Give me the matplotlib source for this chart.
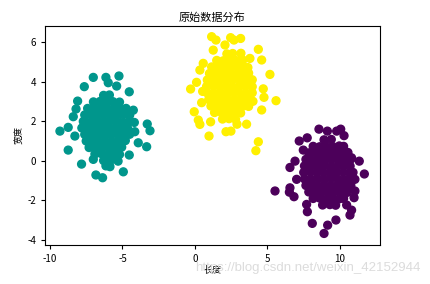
import numpy as np
import matplotlib
matplotlib.use("Agg")
import matplotlib.pyplot as plt
from matplotlib.colors import ListedColormap

plt.rcParams['font.family'] = ['Noto Sans CJK SC', 'DejaVu Sans']
plt.rcParams['axes.unicode_minus'] = False

# 青色簇 (label 1)
teal_x = [-5.24, -7.01, -6.14, -5.98, -7.63, -5.40, -4.53, -8.09, -8.20, -8.39,
          -4.25, -4.18, -3.29, -3.10, -8.74, -9.31, -8.28, -4.15, -3.91, -3.33,
          -8.74, -7.82, -7.01, -4.53, -4.94, -6.83, -6.37, -5.86, -5.30, -6.14,
          -6.30, -5.90,
          -7.00, -6.55, -6.10, -5.65, -5.20,
          -7.40, -6.95, -6.50, -6.05, -5.60, -5.15, -4.75,
          -7.60, -7.15, -6.70, -6.25, -5.80, -5.35, -4.90, -4.50,
          -7.70, -7.25, -6.80, -6.35, -5.90, -5.45, -5.00, -4.55,
          -7.80, -7.35, -6.90, -6.45, -6.00, -5.55, -5.10, -4.65,
          -7.60, -7.15, -6.70, -6.25, -5.80, -5.35, -4.90, -4.50,
          -7.50, -7.05, -6.60, -6.15, -5.70, -5.25, -4.80,
          -7.30, -6.85, -6.40, -5.95, -5.50, -5.05,
          -6.90, -6.45, -6.00, -5.55, -5.20,
          -6.30, -5.80]
teal_y = [4.28, 4.21, 4.21, 3.94, 3.74, 3.77, 3.48, 3.01, 2.61, 2.22,
          2.55, 1.93, 1.85, 1.51, 1.68, 1.49, 1.24, 1.46, 0.90, 0.70,
          0.53, -0.18, 0.06, 0.28, -0.57, -0.73, -0.87, -0.31, -0.03, -0.27,
          3.30, 3.32,
          2.97, 2.99, 2.95, 2.98, 2.96,
          2.64, 2.62, 2.66, 2.63, 2.65, 2.61, 2.64,
          2.31, 2.33, 2.30, 2.32, 2.29, 2.31, 2.34, 2.30,
          1.98, 1.96, 2.00, 1.97, 1.99, 1.98, 1.95, 1.99,
          1.65, 1.66, 1.63, 1.65, 1.67, 1.64, 1.66, 1.65,
          1.32, 1.30, 1.33, 1.31, 1.34, 1.32, 1.30, 1.33,
          0.99, 1.01, 0.98, 1.00, 0.97, 0.99, 1.01,
          0.66, 0.64, 0.67, 0.65, 0.66, 0.68,
          0.33, 0.35, 0.32, 0.34, 0.31,
          0.00, 0.02]

# 黄色簇 (label 2)
yellow_x = [1.15, 1.45, 2.46, 2.69, 3.15, 2.07, 1.26, 4.37, 3.17, 3.79,
            4.60, 0.57, 0.34, 5.17, 0.11, -0.30, 0.53, 4.71, 4.76, 5.59,
            0.46, -0.05, 4.60, 0.23, 0.34, 1.08, 2.14, 2.48, 0.97, 3.56,
            4.37, 4.20, 2.90, 4.00,
            2.20, 2.60,
            1.50, 1.95, 2.40, 2.85, 3.30,
            1.15, 1.60, 2.05, 2.50, 2.95, 3.40, 3.65,
            1.00, 1.45, 1.90, 2.35, 2.80, 3.25, 3.70,
            0.85, 1.30, 1.75, 2.20, 2.65, 3.10, 3.55, 3.95,
            0.80, 1.25, 1.70, 2.15, 2.60, 3.05, 3.50, 3.95,
            0.85, 1.30, 1.75, 2.20, 2.65, 3.10, 3.55, 3.95,
            0.95, 1.40, 1.85, 2.30, 2.75, 3.20, 3.65,
            1.10, 1.55, 2.00, 2.45, 2.90, 3.35, 3.70,
            1.35, 1.80, 2.25, 2.70, 3.15,
            1.90, 2.35, 2.80]
yellow_y = [6.27, 6.10, 6.22, 6.10, 6.18, 5.85, 5.59, 5.63, 5.43, 5.17,
            5.09, 4.92, 4.58, 4.36, 3.96, 3.62, 3.50, 3.63, 3.20, 3.03,
            2.93, 2.47, 2.56, 2.05, 1.83, 1.96, 1.46, 1.49, 1.24, 1.84,
            0.95, 0.50, 1.84, 3.00,
            5.40, 5.42,
            5.07, 5.05, 5.08, 5.06, 5.09,
            4.74, 4.72, 4.75, 4.73, 4.76, 4.74, 4.71,
            4.41, 4.43, 4.40, 4.42, 4.39, 4.41, 4.43,
            4.08, 4.06, 4.09, 4.07, 4.10, 4.08, 4.06, 4.09,
            3.75, 3.77, 3.74, 3.76, 3.73, 3.75, 3.77, 3.74,
            3.42, 3.40, 3.43, 3.41, 3.44, 3.42, 3.40, 3.43,
            3.09, 3.11, 3.08, 3.10, 3.07, 3.09, 3.11,
            2.76, 2.74, 2.77, 2.75, 2.78, 2.76, 2.74,
            2.43, 2.45, 2.42, 2.44, 2.41,
            2.10, 2.12, 2.09]

# 紫色簇 (label 0)
purple_x = [8.55, 9.13, 9.77, 10.05, 10.28, 7.19, 7.74, 7.47, 10.11, 10.80,
            11.33, 6.90, 6.55, 11.68, 11.03, 7.01, 5.52, 6.55, 6.51, 6.83,
            11.03, 10.97, 7.70, 7.75, 10.46, 10.80, 10.69, 9.72, 9.15, 8.09,
            8.90,
            8.90, 9.40,
            8.15, 8.60, 9.05, 9.50, 9.95, 10.25,
            7.85, 8.30, 8.75, 9.20, 9.65, 10.10, 10.55,
            7.65, 8.10, 8.55, 9.00, 9.45, 9.90, 10.35, 10.75,
            7.55, 8.00, 8.45, 8.90, 9.35, 9.80, 10.25, 10.70,
            7.50, 7.95, 8.40, 8.85, 9.30, 9.75, 10.20, 10.65, 10.90,
            7.55, 8.00, 8.45, 8.90, 9.35, 9.80, 10.25, 10.70,
            7.65, 8.10, 8.55, 9.00, 9.45, 9.90, 10.35, 10.75,
            7.85, 8.30, 8.75, 9.20, 9.65, 10.10, 10.50,
            8.15, 8.60, 9.05, 9.50, 9.95, 10.25,
            8.80, 9.30, 9.70]
purple_y = [1.59, 1.49, 1.49, 1.59, 1.26, 0.99, 1.15, 0.53, 0.56, 0.14,
            -0.03, -0.03, -0.35, -0.68, -0.95, -0.95, -1.54, -1.38, -1.60, -1.83,
            -1.54, -1.88, -2.22, -2.59, -2.25, -2.51, -2.76, -3.01, -3.27, -3.18,
            -3.69,
            1.05, 1.07,
            0.72, 0.70, 0.73, 0.71, 0.74, 0.72,
            0.39, 0.41, 0.38, 0.40, 0.37, 0.39, 0.41,
            0.06, 0.04, 0.07, 0.05, 0.08, 0.06, 0.04, 0.07,
            -0.27, -0.25, -0.28, -0.26, -0.29, -0.27, -0.25, -0.28,
            -0.60, -0.58, -0.61, -0.59, -0.62, -0.60, -0.58, -0.61, -0.60,
            -0.93, -0.95, -0.92, -0.94, -0.91, -0.93, -0.95, -0.92,
            -1.26, -1.24, -1.27, -1.25, -1.28, -1.26, -1.24, -1.27,
            -1.59, -1.61, -1.58, -1.60, -1.57, -1.59, -1.61,
            -1.92, -1.90, -1.93, -1.91, -1.94, -1.92,
            -2.25, -2.23, -2.26]

x = np.array(purple_x + teal_x + yellow_x)
y = np.array(purple_y + teal_y + yellow_y)
labels = np.array([0] * len(purple_x) + [1] * len(teal_x) + [2] * len(yellow_x))

cmap = ListedColormap(['#4c005a', '#00968c', '#fff000'])

fig = plt.figure(figsize=(4.31, 2.84), dpi=100)
ax = fig.add_axes([0.1044, 0.139, 0.7773, 0.768])
ax.scatter(x, y, c=labels, cmap=cmap, s=32)
ax.set_xlim(-10.34, 12.76)
ax.set_ylim(-4.25, 6.79)
ax.set_xticks([-10, -5, 0, 5, 10])
ax.set_yticks([-4, -2, 0, 2, 4, 6])
ax.tick_params(labelsize=7, length=3)
ax.set_title('原始数据分布', fontsize=8, pad=4)
ax.set_xlabel('长度', fontsize=6.5, labelpad=1)
ax.set_ylabel('宽度', fontsize=6.5, labelpad=2)
fig.text(0.975, 0.035, 'https://blog.csdn.net/weixin_42152944', ha='right', va='bottom',
         fontsize=9.5, color='#dcdcdc', family=['Liberation Sans', 'DejaVu Sans'])
fig.savefig('out.png', dpi=100)
